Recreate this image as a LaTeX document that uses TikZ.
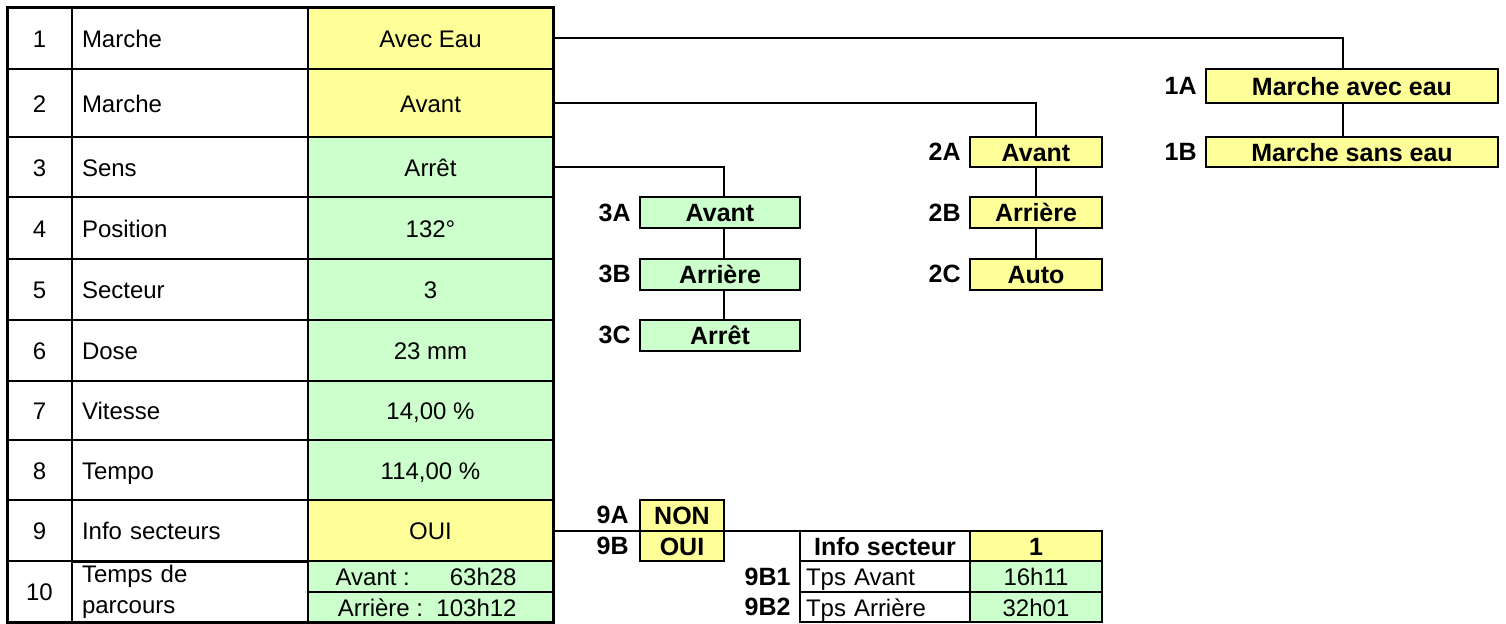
\documentclass[tikz,border=0pt]{standalone}
\usepackage{fontspec}
\setmainfont{Liberation Sans}
\definecolor{yel}{HTML}{FFFF99}
\definecolor{grn}{HTML}{CCFFCC}
\begin{document}
\begin{tikzpicture}[x=0.5pt,y=-0.5pt,
  cell/.style={draw, line width=1pt, inner sep=0pt, outer sep=0pt, font=\fontsize{12}{14}\selectfont, text height=9.1pt, text depth=0pt},
  acell/.style={cell, minimum width=32.5pt},
  bcell/.style={cell, text width=108pt, inner xsep=5pt, inner ysep=0pt, align=left},
  ccell/.style={cell, minimum width=122.5pt},
  yc/.style={ccell, fill=yel},
  gc/.style={ccell, fill=grn},
  hgt/.style={inner sep=0pt, anchor=east, font=\fontsize{12}{14}\selectfont, text height=9.1pt, text depth=0pt},
  box/.style={draw, line width=1pt, inner sep=0pt, outer sep=0pt, font=\bfseries\fontsize{12.5}{14}\selectfont, text height=9.4pt, text depth=0pt},
  ybox/.style={box, fill=yel},
  gbox/.style={box, fill=grn},
  rbox/.style={box, font=\fontsize{12}{14}\selectfont, text height=9.1pt, text depth=0pt},
  lbl/.style={anchor=east, inner sep=0pt, font=\bfseries\fontsize{12.5}{14}\selectfont},
  conn/.style={line width=1pt}
]
\useasboundingbox (0,0) rectangle (1506,623);

% main table
\node[acell, minimum height=31pt] (a1) at (39.5,38) {1};
\node[bcell, minimum height=31pt] (b1) at (190,38) {Marche};
\node[yc, minimum height=31pt] (c1) at (430.5,38) {Avec Eau};
\node[acell, minimum height=34pt] (a2) at (39.5,103) {2};
\node[bcell, minimum height=34pt] (b2) at (190,103) {Marche};
\node[yc, minimum height=34pt] (c2) at (430.5,103) {Avant};
\node[acell, minimum height=30pt] (a3) at (39.5,167) {3};
\node[bcell, minimum height=30pt] (b3) at (190,167) {Sens};
\node[gc, minimum height=30pt] (c3) at (430.5,167) {Arrêt};
\node[acell, minimum height=31pt] (a4) at (39.5,228) {4};
\node[bcell, minimum height=31pt] (b4) at (190,228) {Position};
\node[gc, minimum height=31pt] (c4) at (430.5,228) {132°};
\node[acell, minimum height=30.5pt] (a5) at (39.5,289.5) {5};
\node[bcell, minimum height=30.5pt] (b5) at (190,289.5) {Secteur};
\node[gc, minimum height=30.5pt] (c5) at (430.5,289.5) {3};
\node[acell, minimum height=30.5pt] (a6) at (39.5,350.5) {6};
\node[bcell, minimum height=30.5pt] (b6) at (190,350.5) {Dose};
\node[gc, minimum height=30.5pt] (c6) at (430.5,350.5) {23 mm};
\node[acell, minimum height=29.5pt] (a7) at (39.5,410.5) {7};
\node[bcell, minimum height=29.5pt] (b7) at (190,410.5) {Vitesse};
\node[gc, minimum height=29.5pt] (c7) at (430.5,410.5) {14,00 \%};
\node[acell, minimum height=30pt] (a8) at (39.5,470) {8};
\node[bcell, minimum height=30pt] (b8) at (190,470) {Tempo};
\node[gc, minimum height=30pt] (c8) at (430.5,470) {114,00 \%};
\node[acell, minimum height=30.5pt] (a9) at (39.5,530.5) {9};
\node[bcell, minimum height=30.5pt] (b9) at (190,530.5) {Info secteurs};
\node[yc, minimum height=30.5pt] (c9) at (430.5,530.5) {OUI};
\node[acell, minimum height=30.5pt] (a10) at (39.5,591.5) {10};
\node[draw, line width=1pt, inner sep=0pt, outer sep=0pt, minimum height=30.5pt, text width=108pt, inner xsep=5pt, align=left, font=\fontsize{12}{15.4}\selectfont] (b10) at (190,592) {Temps de\\parcours};
\node[gc, minimum height=15.5pt] (c10a) at (430.5,576.5) {};
\node[gc, minimum height=15pt] (c10b) at (430.5,607) {};
\node[hgt] (t10a) at (517,576.5) {Avant :\ \ \ \ \ \ 63h28};
\node[hgt] (t10b) at (517,607) {Arrière :\ \ 103h12};
\draw[line width=1.5pt] (a1.north west) rectangle (c10b.south east);

% group 1
\node[ybox, minimum width=146pt, minimum height=17pt] (m1A) at (1352,86) {Marche avec eau\hspace{14pt}};
\node[ybox, minimum width=146pt, minimum height=15pt] (m1B) at (1352,152) {Marche sans eau};
\node[lbl] (l1A) at (1197,86) {1A};
\node[lbl] (l1B) at (1197,152) {1B};
\coordinate (x1) at (1343,0);

% group 2
\node[ybox, minimum width=66pt, minimum height=15pt] (m2A) at (1036,152) {Avant};
\node[ybox, minimum width=66pt, minimum height=15.5pt] (m2B) at (1036,212.5) {Arrière};
\node[ybox, minimum width=66pt, minimum height=15.25pt] (m2C) at (1036,274.25) {Auto};
\node[lbl] (l2A) at (961,152) {2A};
\node[lbl] (l2B) at (961,212.5) {2B};
\node[lbl] (l2C) at (961,274.25) {2C};

% group 3
\node[gbox, minimum width=80pt, minimum height=15.5pt] (m3A) at (720,212.5) {Avant};
\node[gbox, minimum width=80pt, minimum height=15.25pt] (m3B) at (720,274.25) {Arrière};
\node[gbox, minimum width=80pt, minimum height=15.25pt] (m3C) at (720,335.25) {Arrêt};
\node[lbl] (l3A) at (631,212.5) {3A};
\node[lbl] (l3B) at (631,274.25) {3B};
\node[lbl] (l3C) at (631,335.25) {3C};
\coordinate (x3) at (724,0);

% group 9
\node[ybox, minimum width=42pt, minimum height=15.25pt] (m9A) at (682,515.25) {NON};
\node[ybox, minimum width=42pt, minimum height=15.25pt] (m9B) at (682,545.75) {OUI};
\node[lbl] (l9A) at (629,515.25) {9A};
\node[lbl] (l9B) at (629,545.75) {9B};

% info secteur table
\node[box, minimum width=85pt, minimum height=15.25pt] (i1) at (885,545.75) {Info secteur};
\node[ybox, minimum width=66pt, minimum height=15.25pt] (i1v) at (1036,545.75) {1};
\node[rbox, text width=79pt, inner xsep=3pt, minimum height=15.5pt, align=left] (i2) at (885,576.5) {Tps Avant};
\node[rbox, fill=grn, minimum width=66pt, minimum height=15.5pt] (i2v) at (1036,576.5) {16h11};
\node[rbox, text width=79pt, inner xsep=3pt, minimum height=15pt, align=left] (i3) at (885,607) {Tps Arrière};
\node[rbox, fill=grn, minimum width=66pt, minimum height=15pt] (i3v) at (1036,607) {32h01};
\node[lbl] (l9B1) at (791,576.5) {9B1};
\node[lbl] (l9B2) at (791,607) {9B2};

% connectors
\draw[conn] (c1.east) -| (x1 |- m1A.north);
\draw[conn] (x1 |- m1A.south) -- (x1 |- m1B.north);
\draw[conn] (c2.east) -| (m2A.north);
\draw[conn] (m2A.south) -- (m2B.north);
\draw[conn] (m2B.south) -- (m2C.north);
\draw[conn] (c3.east) -| (x3 |- m3A.north);
\draw[conn] (x3 |- m3A.south) -- (x3 |- m3B.north);
\draw[conn] (x3 |- m3B.south) -- (x3 |- m3C.north);
\draw[conn] (c9.east) -- (i1.north west);
\end{tikzpicture}
\end{document}
